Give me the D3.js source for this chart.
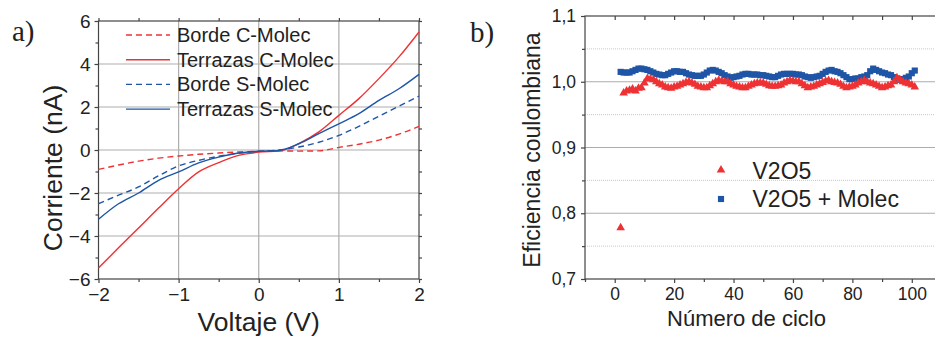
<!DOCTYPE html>
<html>
<head>
<meta charset="utf-8">
<script src="https://cdn.jsdelivr.net/npm/d3@7"></script>
<style>
  body { margin: 0; background: #fff; }
  svg { display: block; font-family: "Liberation Sans", Arial, sans-serif; }
</style>
</head>
<body>
<svg id="chart" width="935" height="337"></svg>
<script>
// ---- panel a data (I-V curves) ----
const voltage = [-2, -1.75, -1.5, -1.25, -1, -0.75, -0.5, -0.25, 0, 0.25, 0.5, 0.75, 1, 1.25, 1.5, 1.75, 2];
const bordeC    = [-0.9, -0.7, -0.52, -0.38, -0.28, -0.2, -0.14, -0.09, -0.06, -0.04, -0.05, -0.04, 0.12, 0.27, 0.46, 0.74, 1.1];
const terrazasC = [-5.49, -4.55, -3.63, -2.7, -1.8, -1.02, -0.59, -0.25, -0.1, -0.05, 0.3, 0.84, 1.61, 2.39, 3.32, 4.33, 5.49];
const bordeS    = [-2.5, -2.1, -1.72, -1.2, -0.74, -0.48, -0.29, -0.15, -0.06, 0.0, 0.14, 0.36, 0.68, 1.1, 1.57, 2.04, 2.51];
const terrazasS = [-3.22, -2.5, -2.0, -1.41, -1.02, -0.6, -0.33, -0.14, -0.06, -0.02, 0.29, 0.76, 1.22, 1.69, 2.31, 2.85, 3.52];
const seriesA = ["Borde C-Molec", "Terrazas C-Molec", "Borde S-Molec", "Terrazas S-Molec"];

// ---- panel b data (coulombic efficiency, cycles 2..101) ----
const firstCycle = 2;
const effV2O5 = [
  0.778, 0.983, 0.986, 0.987, 0.989, 0.986, 0.990, 0.991, 0.998, 1.005,
  1.004, 1.003, 1.000, 0.997, 0.995, 0.992, 0.991, 0.990, 0.992, 0.993,
  0.995, 0.997, 0.999, 1.000, 0.998, 0.996, 0.993, 0.992, 0.991, 0.991,
  0.994, 0.997, 1.000, 1.002, 1.001, 1.000, 1.000, 0.997, 0.995, 0.993,
  0.992, 0.991, 0.991, 0.993, 0.995, 0.997, 0.998, 0.998, 0.998, 0.996,
  0.994, 0.993, 0.993, 0.994, 0.995, 0.998, 1.000, 1.002, 1.001, 1.000,
  1.000, 0.997, 0.994, 0.991, 0.992, 0.993, 0.995, 0.997, 0.999, 1.001,
  1.002, 1.000, 0.999, 0.998, 0.996, 0.993, 0.991, 0.992, 0.993, 0.995,
  0.998, 1.000, 1.002, 1.000, 0.998, 0.997, 0.995, 0.993, 0.991, 0.992,
  0.994, 0.995, 1.000, 1.006, 1.003, 1.000, 0.998, 0.997, 0.995, 0.992];
const effMolec = [
  1.015, 1.014, 1.014, 1.014, 1.016, 1.018, 1.020, 1.020, 1.019, 1.018,
  1.016, 1.014, 1.012, 1.011, 1.010, 1.010, 1.012, 1.014, 1.016, 1.016,
  1.015, 1.015, 1.013, 1.011, 1.010, 1.009, 1.009, 1.009, 1.011, 1.014,
  1.017, 1.018, 1.017, 1.015, 1.013, 1.010, 1.008, 1.006, 1.007, 1.008,
  1.009, 1.011, 1.012, 1.012, 1.011, 1.011, 1.011, 1.010, 1.010, 1.009,
  1.008, 1.007, 1.007, 1.009, 1.011, 1.012, 1.012, 1.012, 1.012, 1.011,
  1.011, 1.010, 1.008, 1.007, 1.006, 1.007, 1.008, 1.009, 1.012, 1.015,
  1.017, 1.018, 1.016, 1.015, 1.013, 1.010, 1.007, 1.004, 1.004, 1.005,
  1.005, 1.007, 1.008, 1.010, 1.016, 1.020, 1.018, 1.016, 1.014, 1.013,
  1.011, 1.010, 1.007, 1.005, 1.003, 1.004, 1.006, 1.008, 1.013, 1.017];
const seriesB = ["V2O5", "V2O5 + Molec"];
const yTicksB = [0.7, 0.8, 0.9, 1.0, 1.1];

const red = "#ee3234", blue = "#1f55a6", frame = "#444", grid = "#adadad", txt = "#222";
const svg = d3.select("#chart");

// ================= panel a =================
const xa = d3.scaleLinear().domain([-2, 2]).range([98.5, 419]);
const ya = d3.scaleLinear().domain([-6, 6]).range([279, 21]);
const ga = svg.append("g");

// grid
ga.selectAll(".gx").data([-1, 0, 1]).enter().append("line")
  .attr("x1", d => xa(d)).attr("x2", d => xa(d)).attr("y1", ya(6)).attr("y2", ya(-6))
  .attr("stroke", grid).attr("stroke-width", 1.2);
ga.selectAll(".gy").data([-4, -2, 0, 2, 4]).enter().append("line")
  .attr("y1", d => ya(d)).attr("y2", d => ya(d)).attr("x1", xa(-2)).attr("x2", xa(2))
  .attr("stroke", grid).attr("stroke-width", 1.2);

// axes
const axStyle = (g, axis, fs) => {
  g.call(axis);
  g.select(".domain").remove();
  g.selectAll("line").attr("stroke", frame).attr("stroke-width", 1.2);
  g.selectAll("text").attr("fill", txt).attr("font-size", fs)
    .attr("font-family", "Liberation Sans, Arial, sans-serif");
};
ga.append("g").attr("transform", `translate(0,${ya(-6)})`)
  .call(g => axStyle(g, d3.axisBottom(xa).tickValues([-2, -1, 0, 1, 2]).tickSize(4).tickPadding(5).tickFormat(d3.format("d")), 19));
ga.append("g").attr("transform", `translate(0,${ya(-6)})`)
  .call(g => axStyle(g, d3.axisBottom(xa).tickValues([-1.5, -0.5, 0.5, 1.5]).tickSize(3).tickFormat(""), 19));
ga.append("g").attr("transform", `translate(${xa(-2)},0)`)
  .call(g => axStyle(g, d3.axisLeft(ya).tickValues([-6, -4, -2, 0, 2, 4, 6]).tickSize(4).tickPadding(4).tickFormat(d3.format("d")), 19));
ga.append("g").attr("transform", `translate(${xa(-2)},0)`)
  .call(g => axStyle(g, d3.axisLeft(ya).tickValues([-5, -3, -1, 1, 3, 5]).tickSize(3).tickFormat(""), 19));
ga.append("g").attr("transform", `translate(0,${ya(6)})`)
  .call(g => axStyle(g, d3.axisTop(xa).tickValues([-2, -1.5, -1, -0.5, 0, 0.5, 1, 1.5, 2]).tickSize(3).tickFormat(""), 19));
ga.append("g").attr("transform", `translate(${xa(2)},0)`)
  .call(g => axStyle(g, d3.axisRight(ya).tickValues(d3.range(-6, 7, 1)).tickSize(3).tickFormat(""), 19));
ga.append("rect").attr("x", xa(-2)).attr("y", ya(6))
  .attr("width", xa(2) - xa(-2)).attr("height", ya(-6) - ya(6))
  .attr("fill", "none").attr("stroke", frame).attr("stroke-width", 1.2);

// curves
const lineA = d3.line().x((d, i) => xa(voltage[i])).y(d => ya(d)).curve(d3.curveMonotoneX);
const curvesA = [
  { vals: bordeC, color: red, dash: "6,4" },
  { vals: terrazasC, color: red, dash: null },
  { vals: bordeS, color: blue, dash: "6,4" },
  { vals: terrazasS, color: blue, dash: null }
];
curvesA.forEach(c => {
  ga.append("path").attr("d", lineA(c.vals)).attr("fill", "none")
    .attr("stroke", c.color).attr("stroke-width", 1.4)
    .attr("stroke-dasharray", c.dash);
});

// legend
const legA = ga.append("g");
seriesA.forEach((name, i) => {
  const y = 35 + i * 24.7;
  legA.append("line").attr("x1", 126).attr("x2", 170).attr("y1", y).attr("y2", y)
    .attr("stroke", curvesA[i].color).attr("stroke-width", 1.4)
    .attr("stroke-dasharray", curvesA[i].dash);
  legA.append("text").attr("x", 177).attr("y", y + 7).attr("font-size", 20)
    .attr("fill", txt).text(name);
});

// titles
ga.append("text").attr("x", xa(0)).attr("y", 331).attr("text-anchor", "middle")
  .attr("font-size", 26.5).attr("fill", txt).text("Voltaje (V)");
ga.append("text").attr("transform", "translate(62,168) rotate(-90)")
  .attr("text-anchor", "middle").attr("font-size", 26.5).attr("fill", txt).text("Corriente (nA)");
ga.append("text").attr("x", 12).attr("y", 41).attr("font-size", 29)
  .attr("font-family", "Liberation Serif, serif").attr("fill", txt).text("a)");

// ================= panel b =================
const xb = d3.scaleLinear().domain([-10, 110]).range([585, 941.5]);
const yb = d3.scaleLinear().domain([0.7, 1.1]).range([279, 16]);
const gb = svg.append("g");

gb.selectAll(".gminor").data([0.75, 0.85, 0.95, 1.05]).enter().append("line")
  .attr("x1", xb(-10)).attr("x2", xb(110)).attr("y1", d => yb(d)).attr("y2", d => yb(d))
  .attr("stroke", "#c8c8c8").attr("stroke-width", 1).attr("stroke-dasharray", "1,1");
gb.selectAll(".gmajor").data([0.8, 0.9, 1.0]).enter().append("line")
  .attr("x1", xb(-10)).attr("x2", xb(110)).attr("y1", d => yb(d)).attr("y2", d => yb(d))
  .attr("stroke", grid).attr("stroke-width", 1.2);

gb.append("g").attr("transform", `translate(0,${yb(0.7)})`)
  .call(g => axStyle(g, d3.axisBottom(xb).tickValues([0, 20, 40, 60, 80, 100]).tickSize(4).tickPadding(5).tickFormat(d3.format("d")), 17.5));
gb.append("g").attr("transform", `translate(0,${yb(0.7)})`)
  .call(g => axStyle(g, d3.axisBottom(xb).tickValues([-10, 10, 30, 50, 70, 90]).tickSize(3).tickFormat(""), 17.5));
gb.append("g").attr("transform", `translate(0,${yb(1.1)})`)
  .call(g => axStyle(g, d3.axisBottom(xb).tickValues(d3.range(0, 110, 10)).tickSize(4).tickFormat(""), 17.5));
gb.append("g").attr("transform", `translate(${xb(-10)},0)`)
  .call(g => axStyle(g, d3.axisLeft(yb).tickValues(yTicksB).tickSize(4).tickPadding(5)
    .tickFormat(d => d3.format(".1f")(d).replace(".", ",")), 17.5));
gb.append("g").attr("transform", `translate(${xb(-10)},0)`)
  .call(g => axStyle(g, d3.axisLeft(yb).tickValues([0.75, 0.85, 0.95, 1.05]).tickSize(3).tickFormat(""), 17.5));
gb.append("rect").attr("x", xb(-10)).attr("y", yb(1.1))
  .attr("width", xb(110) - xb(-10)).attr("height", yb(0.7) - yb(1.1))
  .attr("fill", "none").attr("stroke", frame).attr("stroke-width", 1.2);

const tri = d3.symbol().type(d3.symbolTriangle).size(32);
const sq = d3.symbol().type(d3.symbolSquare).size(38);

gb.selectAll(".molec").data(effMolec).enter().append("path")
  .attr("d", sq).attr("fill", blue)
  .attr("transform", (d, i) => `translate(${xb(firstCycle + i)},${yb(d)})`);
gb.selectAll(".v2o5").data(effV2O5).enter().append("path")
  .attr("d", tri).attr("fill", red)
  .attr("transform", (d, i) => `translate(${xb(firstCycle + i)},${yb(d)})`);

// legend b
gb.append("path").attr("d", tri).attr("fill", red).attr("transform", "translate(721,170)");
gb.append("path").attr("d", sq).attr("fill", blue).attr("transform", "translate(721,199)");
gb.append("text").attr("x", 752.5).attr("y", 178.5).attr("font-size", 23).attr("fill", txt).text(seriesB[0]);
gb.append("text").attr("x", 752.5).attr("y", 207).attr("font-size", 23).attr("fill", txt).text(seriesB[1]);

gb.append("text").attr("x", 746.5).attr("y", 326).attr("text-anchor", "middle")
  .attr("font-size", 22).attr("fill", txt).text("Número de ciclo");
gb.append("text").attr("transform", "translate(540,150) rotate(-90)")
  .attr("text-anchor", "middle").attr("font-size", 23).attr("fill", txt).text("Eficiencia coulombiana");
gb.append("text").attr("x", 470).attr("y", 42).attr("font-size", 29)
  .attr("font-family", "Liberation Serif, serif").attr("fill", txt).text("b)");
</script>
</body>
</html>
